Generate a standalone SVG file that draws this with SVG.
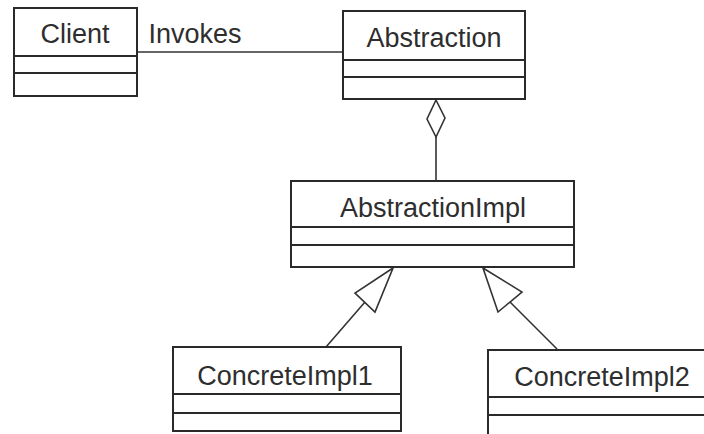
<svg xmlns="http://www.w3.org/2000/svg" width="704" height="434" viewBox="0 0 704 434">
  <style>
    .box { fill: #fff; stroke: #2a2a2a; stroke-width: 2; }
    .div { stroke: #2a2a2a; stroke-width: 2; }
    .lbl { font-family: "Liberation Sans", Arial, sans-serif; font-size: 27px; fill: #2e2e2e; text-anchor: middle; }
    .edge { fill: none; stroke: #333; stroke-width: 1.6; }
    .head { fill: #fff; stroke: #333; stroke-width: 1.6; stroke-linejoin: miter; }
  </style>
  <rect width="704" height="434" fill="#fff"/>

  <!-- connectors -->
  <g id="connectors">
    <!-- Client to Abstraction association -->
    <line class="edge" x1="138" y1="52" x2="343" y2="52"/>
    <text class="lbl" x="195" y="43" style="text-anchor:middle">Invokes</text>
    <!-- aggregation: Abstraction holds AbstractionImpl -->
    <line class="edge" x1="436" y1="137" x2="436" y2="181"/>
    <polygon class="head" points="436,100 445,118 436,137 427,119"/>
    <!-- generalization ConcreteImpl1 -> AbstractionImpl -->
    <line class="edge" x1="326" y1="347" x2="365" y2="302"/>
    <polygon class="head" points="393,268 355,293 375,312"/>
    <!-- generalization ConcreteImpl2 -> AbstractionImpl -->
    <line class="edge" x1="557" y1="349" x2="510" y2="302"/>
    <polygon class="head" points="483,268 522,292 498,312"/>
  </g>

  <g id="client">
    <rect class="box" x="14" y="8" width="123" height="88"/>
    <line class="div" x1="14" y1="56" x2="137" y2="56"/>
    <line class="div" x1="14" y1="73" x2="137" y2="73"/>
    <text class="lbl" x="75" y="43">Client</text>
  </g>

  <g id="abstraction">
    <rect class="box" x="343" y="11" width="182" height="88"/>
    <line class="div" x1="343" y1="60" x2="525" y2="60"/>
    <line class="div" x1="343" y1="77" x2="525" y2="77"/>
    <text class="lbl" x="434" y="47">Abstraction</text>
  </g>

  <g id="abstractionImpl">
    <rect class="box" x="291" y="181" width="283" height="86"/>
    <line class="div" x1="291" y1="227" x2="574" y2="227"/>
    <line class="div" x1="291" y1="245" x2="574" y2="245"/>
    <text class="lbl" x="433" y="217">AbstractionImpl</text>
  </g>

  <g id="concreteImpl1">
    <rect class="box" x="173" y="347" width="228" height="84"/>
    <line class="div" x1="173" y1="394" x2="401" y2="394"/>
    <line class="div" x1="173" y1="413" x2="401" y2="413"/>
    <text class="lbl" x="285" y="385">ConcreteImpl1</text>
  </g>

  <g id="concreteImpl2">
    <rect class="box" x="488" y="350" width="240" height="100"/>
    <line class="div" x1="488" y1="397" x2="728" y2="397"/>
    <line class="div" x1="488" y1="415" x2="728" y2="415"/>
    <text class="lbl" x="602" y="386">ConcreteImpl2</text>
  </g>
</svg>
